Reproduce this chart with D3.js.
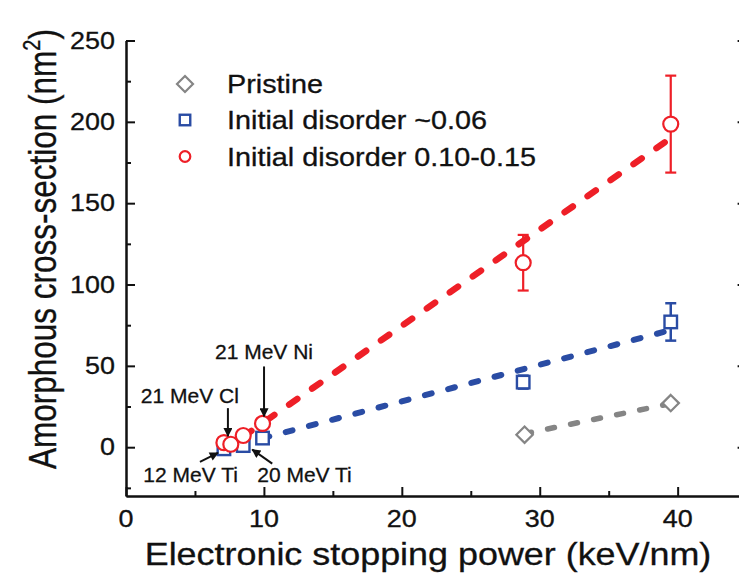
<!DOCTYPE html>
<html>
<head>
<meta charset="utf-8">
<script src="https://cdn.jsdelivr.net/npm/d3@7"></script>
<style>
  html, body { margin: 0; padding: 0; background: #fff; }
  svg { display: block; }
  text { font-family: "Liberation Sans", Arial, Helvetica, sans-serif; fill: #111; stroke: #111; stroke-width: 0.3px; }
</style>
</head>
<body>
<svg id="chart" width="739" height="579"></svg>
<script>
// ---- data (electronic stopping power in keV/nm, amorphous cross-section in nm^2) ----
const pristineX = [28.9, 39.5];
const pristineY = [7.7, 27.1];

const disorder06X = [7.1, 8.5, 9.9, 28.8, 39.5];
const disorder06Y = [-1.0, 1.0, 5.6, 40.0, 77.0];
const disorder06Err = [0, 0, 0, 4, 11.5];

const disorder10X = [7.1, 7.6, 8.5, 9.9, 28.8, 39.5];
const disorder10Y = [2.8, 1.8, 7.2, 14.6, 113.4, 198.6];
const disorder10Err = [0, 0, 0, 0, 17.1, 29.8];

// linear fits (end points)
const fitPristineX = [28.9, 39.5];
const fitPristineY = [8.3, 26.8];
const fit06X = [9.9, 39.5];
const fit06Y = [5.5, 72.0];
const fit10X = [8.5, 39.5];
const fit10Y = [6.5, 190.0];

const legendLabels = ["Pristine", "Initial disorder ~0.06", "Initial disorder 0.10-0.15"];
const xTickLabels = [0, 10, 20, 30, 40];
const yTickLabels = [0, 50, 100, 150, 200, 250];
const ionLabels = ["21 MeV Ni", "21 MeV Cl", "12 MeV Ti", "20 MeV Ti"];

// ---- layout ----
const svg = d3.select("#chart");
const FONT_STRETCH = 1.17;
const x = d3.scaleLinear().domain([0, 45]).range([126, 746.6]);
const y = d3.scaleLinear().domain([-30, 250]).range([496, 40.5]);

const RED = "#ee1f27", BLUE = "#2a4ca4", GRAY = "#858585";

// defs: arrow head
svg.append("defs").append("marker")
  .attr("id", "arrowHead").attr("viewBox", "0 0 10 10")
  .attr("refX", 9).attr("refY", 5)
  .attr("markerWidth", 11).attr("markerHeight", 9)
  .attr("markerUnits", "userSpaceOnUse")
  .attr("orient", "auto")
  .append("path").attr("d", "M0,0 L10,5 L0,10 Z").attr("fill", "#111");

// ---- axes (ticks point inward) ----
const axisG = svg.append("g").attr("class", "axes");
const majorY = yTickLabels;
const minorY = [-25, 25, 75, 125, 175, 225];
const majorX = xTickLabels;
const minorX = [5, 15, 25, 35, 45];

function styleAxis(g) {
  g.select(".domain").attr("stroke", "#111").attr("stroke-width", 2);
  g.selectAll(".tick line").attr("stroke", "#111").attr("stroke-width", 2);
  g.selectAll(".tick text").remove();
}

axisG.append("g").attr("transform", `translate(${x(0)},0)`)
  .call(d3.axisLeft(y).tickValues(majorY).tickSize(-9).tickSizeOuter(0)).call(styleAxis);
axisG.append("g").attr("transform", `translate(${x(0)},0)`)
  .call(d3.axisLeft(y).tickValues(minorY).tickSize(-5).tickSizeOuter(0)).call(styleAxis);
axisG.append("g").attr("transform", `translate(${x(45)},0)`)
  .call(d3.axisRight(y).tickValues(majorY).tickSize(-9).tickSizeOuter(0)).call(styleAxis);
axisG.append("g").attr("transform", `translate(${x(45)},0)`)
  .call(d3.axisRight(y).tickValues(minorY).tickSize(-5).tickSizeOuter(0)).call(styleAxis);
axisG.append("g").attr("transform", `translate(0,${y(-30)})`)
  .call(d3.axisBottom(x).tickValues(majorX).tickSize(-9).tickSizeOuter(0)).call(styleAxis);
axisG.append("g").attr("transform", `translate(0,${y(-30)})`)
  .call(d3.axisBottom(x).tickValues(minorX).tickSize(-5).tickSizeOuter(0)).call(styleAxis);

// horizontally stretched text helper
function stretchedText(parent, str, tx, ty, size, anchor, sx) {
  return parent.append("text")
    .attr("transform", `translate(${tx},${ty}) scale(${sx},1)`)
    .attr("text-anchor", anchor)
    .attr("font-size", size)
    .text(str);
}

// tick labels
yTickLabels.forEach(v => stretchedText(svg, String(v), 115, y(v) + 8, 23, "end", FONT_STRETCH));
xTickLabels.forEach(v => stretchedText(svg, String(v), x(v), 527, 23, "middle", FONT_STRETCH));

// axis titles
stretchedText(svg, "Electronic stopping power (keV/nm)", 428, 565, 31.5, "middle", 1.14);
const yt = svg.append("text")
  .attr("transform", `translate(56,249) scale(1.22,1) rotate(-90)`)
  .attr("text-anchor", "middle").attr("font-size", 31.5);
yt.append("tspan").text("Amorphous cross-section (nm");
yt.append("tspan").attr("font-size", 20).attr("dy", -13).text("2");
yt.append("tspan").attr("dy", 13).text(")");

// ---- fit lines ----
const line = d3.line().x(d => x(d[0])).y(d => y(d[1]));
const fits = [
  { xs: fitPristineX, ys: fitPristineY, color: GRAY, w: 5.5, dash: "7,16.5" },
  { xs: fit06X, ys: fit06Y, color: BLUE, w: 6, dash: "7,17" },
  { xs: fit10X, ys: fit10Y, color: RED, w: 6.5, dash: "10,18" }
];
fits.forEach(f => {
  svg.append("path")
    .datum(d3.zip(f.xs, f.ys))
    .attr("d", line)
    .attr("fill", "none")
    .attr("stroke", f.color)
    .attr("stroke-width", f.w)
    .attr("stroke-linecap", "round")
    .attr("stroke-dasharray", f.dash);
});

// ---- error bars ----
function errorBars(xs, ys, errs, color, w) {
  const data = d3.zip(xs, ys, errs).filter(d => d[2] > 0);
  const g = svg.append("g").attr("stroke", color).attr("stroke-width", w);
  data.forEach(([xv, yv, e]) => {
    g.append("line").attr("x1", x(xv)).attr("x2", x(xv)).attr("y1", y(yv - e)).attr("y2", y(yv + e));
    [yv - e, yv + e].forEach(c => g.append("line")
      .attr("x1", x(xv) - 5.5).attr("x2", x(xv) + 5.5).attr("y1", y(c)).attr("y2", y(c)));
  });
}
errorBars(disorder10X, disorder10Y, disorder10Err, RED, 2.2);
errorBars(disorder06X, disorder06Y, disorder06Err, BLUE, 2.5);

// ---- markers ----
const diamond = s => `M0,${-s} L${s},0 L0,${s} L${-s},0 Z`;
function drawDiamond(g, cx, cy, s) {
  return g.append("path").attr("d", diamond(s)).attr("transform", `translate(${cx},${cy})`)
    .attr("fill", "#fff").attr("stroke", GRAY).attr("stroke-width", 2.2);
}
function drawSquare(g, cx, cy, s) {
  return g.append("rect").attr("x", cx - s / 2).attr("y", cy - s / 2).attr("width", s).attr("height", s)
    .attr("fill", "#fff").attr("stroke", BLUE).attr("stroke-width", 2.4);
}
function drawCircle(g, cx, cy, r) {
  return g.append("circle").attr("cx", cx).attr("cy", cy).attr("r", r)
    .attr("fill", "#fff").attr("stroke", RED).attr("stroke-width", 2.2);
}

const marks = svg.append("g");
d3.zip(pristineX, pristineY).forEach(([a, b]) => drawDiamond(marks, x(a), y(b), 8.2));
d3.zip(disorder06X, disorder06Y).forEach(([a, b]) => drawSquare(marks, x(a), y(b), 12.5));
d3.zip(disorder10X, disorder10Y).forEach(([a, b]) => drawCircle(marks, x(a), y(b), 7.5));

// ---- ion annotations ----
const ann = svg.append("g");
function arrow(x1, y1, x2, y2) {
  ann.append("line").attr("x1", x1).attr("y1", y1).attr("x2", x2).attr("y2", y2)
    .attr("stroke", "#111").attr("stroke-width", 2).attr("marker-end", "url(#arrowHead)");
}
function label(str, tx, ty, anchor) {
  ann.append("text").attr("x", tx).attr("y", ty).attr("text-anchor", anchor)
    .attr("font-size", 21).text(str);
}
// 21 MeV Ni -> red point at 9.9
{
  const px = x(disorder10X[3]) + 1.5, py = y(disorder10Y[3]) - 7;
  arrow(px, py - 50, px, py);
  label(ionLabels[0], px, py - 57, "middle");
}
// 21 MeV Cl -> red point at 7.1
{
  const px = x(disorder10X[0]) + 4, py = y(disorder10Y[0]) - 6.5;
  arrow(px, py - 28, px, py);
  label(ionLabels[1], px + 11, py - 33.5, "end");
}
// 12 MeV Ti -> blue point at 7.1
{
  const px = x(disorder06X[0]) - 6, py = y(disorder06Y[0]) + 4;
  arrow(px - 18, py + 9, px, py);
  label(ionLabels[2], px + 20, py + 29, "end");
}
// 20 MeV Ti -> blue point at 8.5
{
  const px = x(disorder06X[1]) + 9, py = y(disorder06Y[1]) + 4;
  arrow(px + 20, py + 14, px, py);
  label(ionLabels[3], px + 5, py + 32, "start");
}

// ---- legend ----
const legend = svg.append("g");
const legendRows = [84, 120, 156.5];
drawDiamond(legend, 185, legendRows[0], 8);
drawSquare(legend, 185, legendRows[1], 10.5);
drawCircle(legend, 185, legendRows[2], 5.3);
legendLabels.forEach((s, i) => stretchedText(legend, s, 227, legendRows[i] + 9.3, 25.5, "start", 1.13));
</script>
</body>
</html>
